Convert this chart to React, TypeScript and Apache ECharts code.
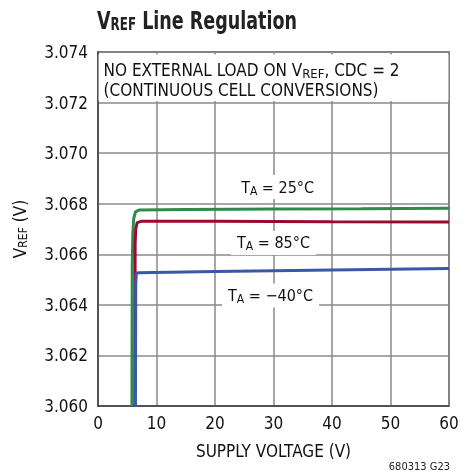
import React, { useEffect, useRef } from "react";
import * as echarts from "echarts";

const FONT = '"Liberation Sans Narrow", "DejaVu Sans Condensed", "Roboto", sans-serif';

const xTicks = [0, 10, 20, 30, 40, 50, 60];
const yTickLabels = ["3.060", "3.062", "3.064", "3.066", "3.068", "3.070", "3.072", "3.074"];

// [supply voltage (V), VREF (V)]
const t25: [number, number][] = [
  [5.8, 3.06], [5.85, 3.0655], [5.95, 3.0668], [6.1, 3.0674], [6.4, 3.06768], [7, 3.06775],
  [15, 3.06777], [30, 3.06779], [45, 3.0678], [60, 3.06782],
];
const t85: [number, number][] = [
  [6.3, 3.06], [6.35, 3.0664], [6.45, 3.0670], [6.7, 3.06725], [7.5, 3.06731],
  [20, 3.06731], [40, 3.06729], [60, 3.06728],
];
const tm40: [number, number][] = [
  [6.4, 3.06], [6.45, 3.0648], [6.55, 3.06525], [7, 3.06527], [20, 3.06532],
  [40, 3.06538], [60, 3.06544],
];

const seriesNames = ["25°C", "85°C", "−40°C"];
const seriesColors = ["#2f8a4c", "#9a0a30", "#3a58a8"];
const labelPos: [number, number][] = [[30.7, 3.06866], [30.0, 3.06645], [29.5, 3.06437]];
const noteBox: [number, number][] = [[0.1, 3.0739], [59.9, 3.07206]];

export default function App() {
  const ref = useRef<HTMLDivElement>(null);
  useEffect(() => {
    if (!ref.current) return;
    const chart = echarts.init(ref.current, undefined, { renderer: "svg" });
    const datas = [t25, t85, tm40];
    const rich = {
      m: { fontFamily: FONT, fontSize: 16, color: "#111", lineHeight: 20 },
      s: { fontFamily: FONT, fontSize: 12, color: "#111", lineHeight: 20, padding: [7, 0, 0, 0] },
    };
    const noteRich = {
      m: { fontFamily: FONT, fontSize: 17, color: "#111", lineHeight: 20 },
      s: { fontFamily: FONT, fontSize: 13, color: "#111", lineHeight: 20, padding: [7, 0, 0, 0] },
    };
    const series: any[] = datas.map((d, i) => ({
      type: "line",
      name: seriesNames[i],
      data: d,
      showSymbol: false,
      symbol: "none",
      smooth: false,
      lineStyle: { color: seriesColors[i], width: 3 },
      z: 3,
      markPoint: {
        symbol: "rect",
        symbolSize: 0,
        silent: true,
        data: [{ coord: labelPos[i], value: seriesNames[i] }],
        label: {
          show: true,
          position: "inside",
          backgroundColor: "#fff",
          padding: [2, 6, 2, 6],
          formatter: () => `{m|T}{s|A}{m| = ${seriesNames[i]}}`,
          rich,
        },
      },
    }));
    series[0].markArea = {
      silent: true,
      itemStyle: { color: "#fff" },
      label: {
        show: true,
        position: "insideTopLeft",
        formatter: () =>
          "{m|NO EXTERNAL LOAD ON V}{s|REF}{m|, CDC = 2}\n{m|(CONTINUOUS CELL CONVERSIONS)}",
        rich: noteRich,
      },
      data: [[{ coord: noteBox[0] }, { coord: noteBox[1] }]],
    };
    chart.setOption({
      animation: false,
      grid: { left: 98, top: 52, right: 23, bottom: 70, show: true, borderColor: "#444", borderWidth: 1.5 },
      xAxis: {
        type: "value",
        min: 0,
        max: 60,
        interval: 10,
        name: "SUPPLY VOLTAGE (V)",
        nameLocation: "middle",
        nameGap: 36,
        nameTextStyle: { fontFamily: FONT, fontSize: 17, color: "#111" },
        axisLine: { show: true, lineStyle: { color: "#444", width: 1.5 } },
        axisTick: { show: false },
        axisLabel: {
          fontFamily: FONT,
          fontSize: 17,
          color: "#111",
          margin: 8,
          formatter: (v: number) => (xTicks.includes(v) ? String(v) : ""),
        },
        splitLine: { show: true, lineStyle: { color: "#8a8a8a", width: 1.5 } },
      },
      yAxis: {
        type: "value",
        min: 3.06,
        max: 3.074,
        interval: 0.002,
        name: "{m|V}{s|REF}{m| (V)}",
        nameLocation: "middle",
        nameGap: 68,
        nameRotate: 90,
        nameTextStyle: { rich: { ...rich, m: { ...rich.m, fontSize: 17 }, s: { ...rich.s, fontSize: 12, padding: [6, 0, 0, 0] } } },
        axisLine: { show: true, lineStyle: { color: "#444", width: 1.5 } },
        axisTick: { show: false },
        axisLabel: {
          fontFamily: FONT,
          fontSize: 17,
          color: "#111",
          margin: 10,
          formatter: (v: number) => yTickLabels[Math.round((v - 3.06) / 0.002)] ?? "",
        },
        splitLine: { show: true, lineStyle: { color: "#8a8a8a", width: 1.5 } },
      },
      graphic: [
        {
          type: "text",
          x: 97,
          y: 5,
          scaleX: 0.78,
          style: {
            text: "{m|V}{s|REF}{m| Line Regulation}",
            rich: {
              m: { fontFamily: FONT, fontSize: 25, fontWeight: "bold", fill: "#222", lineHeight: 30 },
              s: { fontFamily: FONT, fontSize: 17, fontWeight: "bold", fill: "#222", lineHeight: 30, padding: [9, 0, 0, 0] },
            },
          },
        },
        {
          type: "text",
          right: 22,
          bottom: 4,
          style: { text: "680313 G23", fontFamily: FONT, fontSize: 11, fill: "#222" },
        },
      ],
      series,
    });
    return () => chart.dispose();
  }, []);
  return <div ref={ref} style={{ position: "fixed", left: 0, top: 0, width: 472, height: 476 }} />;
}
